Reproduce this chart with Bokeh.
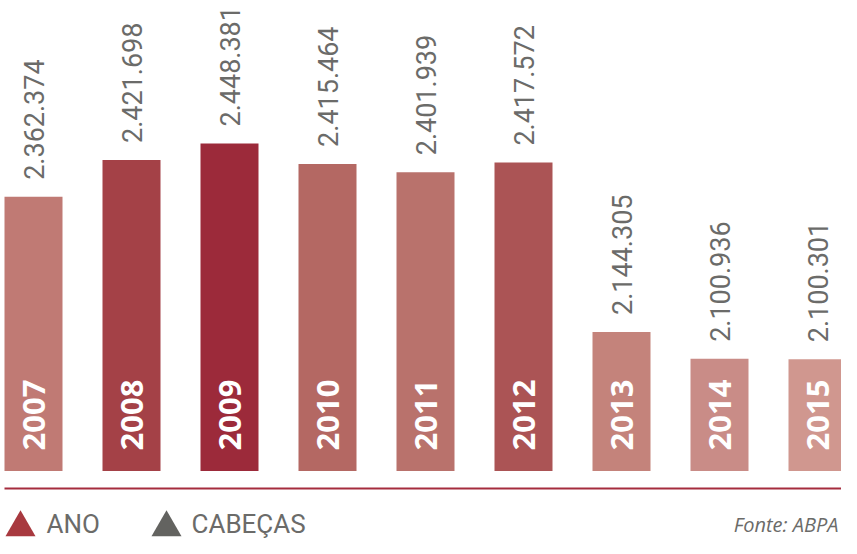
from math import pi
from bokeh.plotting import figure
from bokeh.models import ColumnDataSource, Range1d
from bokeh.core.properties import value
from bokeh.embed import file_html
from bokeh.resources import INLINE

# ---- data ----
years = ["2007", "2008", "2009", "2010", "2011", "2012", "2013", "2014", "2015"]
heads = [2362374, 2421698, 2448381, 2415464, 2401939, 2417572, 2144305, 2100936, 2100301]
head_labels = ["2.362.374", "2.421.698", "2.448.381", "2.415.464", "2.401.939",
               "2.417.572", "2.144.305", "2.100.936", "2.100.301"]
bar_colors = ["#c07a74", "#a44147", "#9c2a3a", "#b46863", "#b9726c",
              "#ab5455", "#c4837b", "#c98c87", "#d0978f"]
legend_labels = ["ANO", "CABEÇAS"]
legend_colors = ["#a8393f", "#636360"]
source_note = "Fonte: ABPA"

# ---- layout ----
W, H = 841, 538
BASE = 1920000          # value at the bars' baseline
K = 0.0006198           # pixels per unit (vertical)
PXX = 98.0              # pixels per year (horizontal)
base_frame_y = 470.5    # baseline distance from frame top, px
x_start = 2007 - 33 / PXX
x_end = x_start + W / PXX
y_end = BASE + base_frame_y / K
y_start = BASE - (H - base_frame_y) / K


def fx(px):  # page pixel -> data x
    return x_start + (px - 8) / PXX


def fy(py):  # page pixel -> data y
    return y_end - (py - 8) / K


xs = [int(y) for y in years]
src = ColumnDataSource(dict(x=xs, top=heads, year=years, lab=head_labels, color=bar_colors))

p = figure(width=W, height=H, x_range=Range1d(x_start, x_end), y_range=Range1d(y_start, y_end),
           output_backend="svg", toolbar_location=None, min_border=0,
           x_axis_location=None, y_axis_location=None)
p.grid.visible = False
p.outline_line_color = None
p.background_fill_color = "white"
p.border_fill_color = "white"

p.vbar(x="x", top="top", bottom=BASE, width=58 / PXX, fill_color="color", line_color=None, source=src)

p.text(x="x", y="top", text="lab", source=src, angle=pi / 2, y_offset=-17,
       text_align="left", text_baseline="middle",
       text_font=value("Roboto"), text_font_size="27px", text_color="#6b6b69")

p.text(x="x", y=BASE, text="year", source=src, angle=pi / 2, y_offset=-20.5,
       text_align="left", text_baseline="middle",
       text_font=value("Open Sans"), text_font_style="bold", text_font_size="31px",
       text_color="white")

# separator line
p.segment(x0=[fx(12)], y0=[fy(496)], x1=[x_end], y1=[fy(496)], line_color="#a52c3e", line_width=2.2)

# legend
p.scatter(x=[fx(28), fx(174)], y=[fy(535), fy(535)], marker="triangle", size=30,
          fill_color=legend_colors, line_color=None)
p.text(x=[fx(54), fx(199)], y=[fy(531), fy(531)], text=legend_labels,
       text_align="left", text_baseline="middle",
       text_font=value("Roboto"), text_font_size="26px", text_color="#6b6b69")

# source note
p.text(x=[fx(846)], y=[fy(532)], text=[source_note], text_align="right", text_baseline="middle",
       text_font=value("Open Sans"), text_font_style="italic", text_font_size="20px",
       text_color="#6b6b69")

open("out.html", "w").write(file_html(p, INLINE))
